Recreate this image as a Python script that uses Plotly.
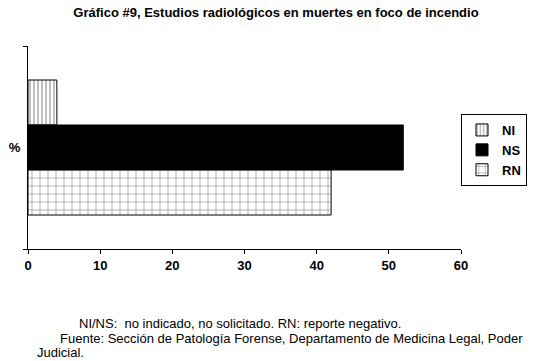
import plotly.graph_objects as go

categories = ["%"]
series_names = ["NI", "NS", "RN"]
ni_values = [4]
ns_values = [52]
rn_values = [42]
x_ticks = [0, 10, 20, 30, 40, 50, 60]

FONT = "Liberation Sans, Arial, sans-serif"

fig = go.Figure()
styles = {
    "NI": dict(color="white", pattern=dict(shape="|", size=4, solidity=0.25, fgcolor="black", bgcolor="white", fillmode="overlay")),
    "NS": dict(color="black"),
    "RN": dict(color="white", pattern=dict(shape="+", size=8, solidity=0.14, fgcolor="black", bgcolor="white", fillmode="overlay")),
}
for name, vals in zip(series_names, [ni_values, ns_values, rn_values]):
    fig.add_trace(go.Bar(
        y=categories, x=vals, name=name, orientation="h",
        marker=dict(line=dict(color="black", width=1), **styles[name]),
    ))

PL, PR, PT, PB = 28, 461, 46, 249
W, H = 534, 361

def px(x):
    return (x - PL) / (PR - PL)

def py(y):
    return (PB - y) / (PB - PT)

fig.update_layout(
    width=W, height=H,
    margin=dict(l=PL, r=W - PR, t=PT, b=H - PB, autoexpand=False),
    paper_bgcolor="white", plot_bgcolor="white",
    barmode="group", bargap=0.335, bargroupgap=0,
    font=dict(family=FONT, color="black", size=12),
    title=dict(text="<b>Gráfico #9, Estudios radiológicos en muertes en foco de incendio</b>",
               x=276 / W, xanchor="center", y=1 - 12 / H, yanchor="middle",
               font=dict(family=FONT, size=13, color="black")),
    xaxis=dict(range=[0, 60], tickvals=x_ticks, showgrid=False, zeroline=False,
               showline=True, linecolor="black", linewidth=1, automargin=False,
               ticks="outside", ticklen=4, tickcolor="black",
               tickfont=dict(family=FONT, size=13, color="black", weight="bold")),
    yaxis=dict(autorange="reversed", showgrid=False, zeroline=False, automargin=False,
               showline=True, linecolor="black", linewidth=1,
               ticks="outside", ticklen=4, tickcolor="black", tickson="boundaries",
               ticklabelstandoff=4,
               tickfont=dict(family=FONT, size=13, color="black", weight="bold")),
    legend=dict(x=px(527), xanchor="right", y=py(114), yanchor="top",
                bordercolor="black", borderwidth=1, bgcolor="white",
                font=dict(family=FONT, size=13, color="black", weight="bold"),
                itemwidth=30, tracegroupgap=0),
    showlegend=True,
)

fig.add_annotation(text="NI/NS:  no indicado, no solicitado. RN: reporte negativo.",
                   xref="paper", yref="paper", x=px(77), y=py(323),
                   xanchor="left", yanchor="middle", showarrow=False,
                   font=dict(family=FONT, size=13, color="black"))
fig.add_annotation(text="Fuente: Sección de Patología Forense, Departamento de Medicina Legal, Poder",
                   xref="paper", yref="paper", x=px(58), y=py(338),
                   xanchor="left", yanchor="middle", showarrow=False,
                   font=dict(family=FONT, size=13, color="black"))
fig.add_annotation(text="Judicial.",
                   xref="paper", yref="paper", x=px(35), y=py(352),
                   xanchor="left", yanchor="middle", showarrow=False,
                   font=dict(family=FONT, size=13, color="black"))

fig.write_html("out.html", config={"displayModeBar": False},
               post_script="document.body.style.margin='0';document.body.style.padding='0';")
